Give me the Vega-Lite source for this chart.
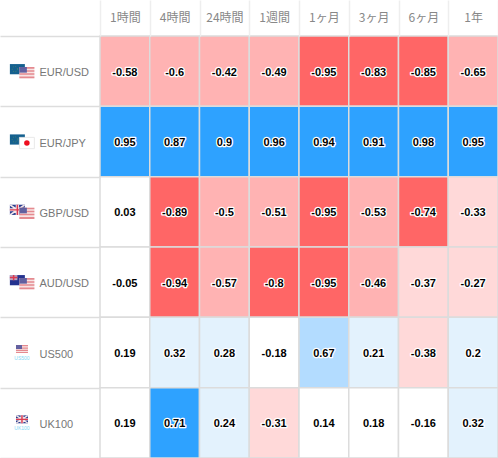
{
"$schema":"https://vega.github.io/schema/vega-lite/v6.json",
"width":398,"height":422,"autosize":"none",
"padding":{"left":100,"top":36,"right":0,"bottom":0},
"background":"white",
"config":{"view":{"stroke":null}},
"datasets":{
"cells":[
{"row":"EUR/USD","p":"1時間","v":-0.58},{"row":"EUR/USD","p":"4時間","v":-0.6},{"row":"EUR/USD","p":"24時間","v":-0.42},{"row":"EUR/USD","p":"1週間","v":-0.49},{"row":"EUR/USD","p":"1ヶ月","v":-0.95},{"row":"EUR/USD","p":"3ヶ月","v":-0.83},{"row":"EUR/USD","p":"6ヶ月","v":-0.85},{"row":"EUR/USD","p":"1年","v":-0.65},
{"row":"EUR/JPY","p":"1時間","v":0.95},{"row":"EUR/JPY","p":"4時間","v":0.87},{"row":"EUR/JPY","p":"24時間","v":0.9},{"row":"EUR/JPY","p":"1週間","v":0.96},{"row":"EUR/JPY","p":"1ヶ月","v":0.94},{"row":"EUR/JPY","p":"3ヶ月","v":0.91},{"row":"EUR/JPY","p":"6ヶ月","v":0.98},{"row":"EUR/JPY","p":"1年","v":0.95},
{"row":"GBP/USD","p":"1時間","v":0.03},{"row":"GBP/USD","p":"4時間","v":-0.89},{"row":"GBP/USD","p":"24時間","v":-0.5},{"row":"GBP/USD","p":"1週間","v":-0.51},{"row":"GBP/USD","p":"1ヶ月","v":-0.95},{"row":"GBP/USD","p":"3ヶ月","v":-0.53},{"row":"GBP/USD","p":"6ヶ月","v":-0.74},{"row":"GBP/USD","p":"1年","v":-0.33},
{"row":"AUD/USD","p":"1時間","v":-0.05},{"row":"AUD/USD","p":"4時間","v":-0.94},{"row":"AUD/USD","p":"24時間","v":-0.57},{"row":"AUD/USD","p":"1週間","v":-0.8},{"row":"AUD/USD","p":"1ヶ月","v":-0.95},{"row":"AUD/USD","p":"3ヶ月","v":-0.46},{"row":"AUD/USD","p":"6ヶ月","v":-0.37},{"row":"AUD/USD","p":"1年","v":-0.27},
{"row":"US500","p":"1時間","v":0.19},{"row":"US500","p":"4時間","v":0.32},{"row":"US500","p":"24時間","v":0.28},{"row":"US500","p":"1週間","v":-0.18},{"row":"US500","p":"1ヶ月","v":0.67},{"row":"US500","p":"3ヶ月","v":0.21},{"row":"US500","p":"6ヶ月","v":-0.38},{"row":"US500","p":"1年","v":0.2},
{"row":"UK100","p":"1時間","v":0.19},{"row":"UK100","p":"4時間","v":0.71},{"row":"UK100","p":"24時間","v":0.24},{"row":"UK100","p":"1週間","v":-0.31},{"row":"UK100","p":"1ヶ月","v":0.14},{"row":"UK100","p":"3ヶ月","v":0.18},{"row":"UK100","p":"6ヶ月","v":-0.16},{"row":"UK100","p":"1年","v":0.32}
],
"flags":[
{"row":"EUR/USD","back":"EU","front":"US","p":"1時間"},
{"row":"EUR/JPY","back":"EU","front":"JP","p":"1時間"},
{"row":"GBP/USD","back":"UK","front":"US","p":"1時間"},
{"row":"AUD/USD","back":"AU","front":"US","p":"1時間"},
{"row":"US500","center":"US","tag":"US500","p":"1時間"},
{"row":"UK100","center":"UK","tag":"UK100","p":"1時間"}
]},
"encoding":{
"x":{"field":"p","type":"nominal","sort":["1時間","4時間","24時間","1週間","1ヶ月","3ヶ月","6ヶ月","1年"],
"scale":{"domain":["1時間","4時間","24時間","1週間","1ヶ月","3ヶ月","6ヶ月","1年"],"paddingInner":0,"paddingOuter":0},
"axis":{"orient":"top","title":null,"domain":false,"grid":false,"tickBand":"extent","tickSize":36,"tickColor":"#eeeeee","tickWidth":1.5,"labelAngle":0,"labelPadding":-17,"labelBaseline":"middle","labelFont":"Noto Sans CJK JP","labelFontSize":12,"labelColor":"#888888"}},
"y":{"field":"row","type":"nominal","sort":["EUR/USD","EUR/JPY","GBP/USD","AUD/USD","US500","UK100"],
"scale":{"domain":["EUR/USD","EUR/JPY","GBP/USD","AUD/USD","US500","UK100"],"paddingInner":0,"paddingOuter":0},
"axis":{"title":null,"domain":false,"grid":false,"tickBand":"extent","tickSize":100,"tickColor":"#dddddd","tickWidth":1.5,"labelAlign":"left","labelPadding":-39,"labelOffset":1.5,"labelFont":"Liberation Sans","labelFontSize":11,"labelColor":"#777777"}}
},
"layer":[
{"data":{"name":"cells"},"mark":{"type":"rect","stroke":"#dcdcdc","strokeWidth":1.5},
"encoding":{"color":{"field":"v","type":"quantitative","legend":null,"scale":{"type":"threshold","domain":[-0.7,-0.4,-0.2,0.2,0.4,0.7],"range":["#ff6666","#ffb3b3","#ffd9d9","#ffffff","#e3f2fd","#b3dcff","#2ea2ff"]}}}},
{"data":{"name":"cells"},"mark":{"type":"text","font":"Liberation Sans","fontSize":11,"fontWeight":"bold","stroke":"white","strokeWidth":2.5,"strokeJoin":"round","fill":"white","yOffset":1.5},
"encoding":{"text":{"field":"v","type":"nominal"}}},
{"data":{"name":"cells"},"mark":{"type":"text","font":"Liberation Sans","fontSize":11,"fontWeight":"bold","fill":"#000000","yOffset":1.5},
"encoding":{"text":{"field":"v","type":"nominal"}}},

{"data":{"name":"flags"},"transform":[{"filter":"datum.back==='EU'"}],"mark":{"type":"point","filled":true,"clip":false,"opacity":1,"shape":"M-1,-0.68H1V0.68H-1Z","size":225,"fill":"#14608f","xOffset":-107.5,"yOffset":-2}},
{"data":{"name":"flags"},"transform":[{"filter":"datum.back==='EU'"}],"mark":{"type":"point","filled":false,"clip":false,"opacity":0.8,"shape":"circle","size":28,"stroke":"#6f9a55","strokeWidth":0.7,"strokeDash":[1,1.5],"xOffset":-110,"yOffset":-2}},

{"data":{"name":"flags"},"transform":[{"filter":"datum.back==='UK'"}],"mark":{"type":"point","filled":true,"clip":false,"opacity":1,"shape":"M-1,-0.68H1V0.68H-1Z","size":225,"fill":"#2b3f90","xOffset":-107.5,"yOffset":-2}},
{"data":{"name":"flags"},"transform":[{"filter":"datum.back==='UK'"}],"mark":{"type":"point","filled":true,"clip":false,"opacity":1,"shape":"M-1,-0.68L-0.8,-0.68L1,0.54V0.68H0.8L-1,-0.54ZM1,-0.68V-0.54L-0.8,0.68H-1V0.54L0.8,-0.68ZM-0.22,-0.68H0.22V-0.2H1V0.2H0.22V0.68H-0.22V0.2H-1V-0.2H-0.22Z","size":225,"fill":"#f4e6e8","xOffset":-107.5,"yOffset":-2}},
{"data":{"name":"flags"},"transform":[{"filter":"datum.back==='UK'"}],"mark":{"type":"point","filled":true,"clip":false,"opacity":1,"shape":"M-0.1,-0.68H0.1V-0.09H1V0.09H0.1V0.68H-0.1V0.09H-1V-0.09H-0.1Z","size":225,"fill":"#dc3a50","xOffset":-107.5,"yOffset":-2}},

{"data":{"name":"flags"},"transform":[{"filter":"datum.back==='AU'"}],"mark":{"type":"point","filled":true,"clip":false,"opacity":1,"shape":"M-1,-0.68H1V0.68H-1Z","size":225,"fill":"#24328f","xOffset":-107.5,"yOffset":-2}},
{"data":{"name":"flags"},"transform":[{"filter":"datum.back==='AU'"}],"mark":{"type":"point","filled":true,"clip":false,"opacity":1,"shape":"M-1,-0.68H0V0H-1Z","size":225,"fill":"#b9a6c0","xOffset":-107.5,"yOffset":-2}},
{"data":{"name":"flags"},"transform":[{"filter":"datum.back==='AU'"}],"mark":{"type":"point","filled":true,"clip":false,"opacity":1,"shape":"M-0.6,-0.68H-0.4V-0.44H0V-0.24H-0.4V0H-0.6V-0.24H-1V-0.44H-0.6Z","size":225,"fill":"#dc3a50","xOffset":-107.5,"yOffset":-2}},

{"data":{"name":"flags"},"transform":[{"filter":"datum.front==='US'"}],"mark":{"type":"point","filled":true,"clip":false,"opacity":1,"shape":"M-1,-0.75H1V0.75H-1Z","size":225,"fill":"#f7e4e4","xOffset":-98,"yOffset":1.5}},
{"data":{"name":"flags"},"transform":[{"filter":"datum.front==='US'"}],"mark":{"type":"point","filled":true,"clip":false,"opacity":1,"shape":"M-1,-0.75H1V-0.53H-1ZM-1,-0.33H1V-0.13H-1ZM-1,0.07H1V0.27H-1ZM-1,0.5H1V0.75H-1Z","size":225,"fill":"#e58a90","xOffset":-98,"yOffset":1.5}},
{"data":{"name":"flags"},"transform":[{"filter":"datum.front==='US'"}],"mark":{"type":"point","filled":true,"clip":false,"opacity":0.95,"shape":"M-1,-0.75H0V0H-1Z","size":225,"fill":"#5a5c9e","xOffset":-98,"yOffset":1.5}},

{"data":{"name":"flags"},"transform":[{"filter":"datum.front==='JP'"}],"mark":{"type":"point","filled":true,"clip":false,"opacity":1,"shape":"M-1,-0.75H1V0.75H-1Z","size":225,"fill":"#ffffff","stroke":"#e4e4e4","strokeWidth":0.8,"xOffset":-98,"yOffset":1.5}},
{"data":{"name":"flags"},"transform":[{"filter":"datum.front==='JP'"}],"mark":{"type":"point","filled":true,"clip":false,"opacity":1,"shape":"circle","size":30,"fill":"#ee0f1f","xOffset":-98,"yOffset":1.5}},

{"data":{"name":"flags"},"transform":[{"filter":"datum.center==='US'"}],"mark":{"type":"point","filled":true,"clip":false,"opacity":1,"shape":"M-1,-0.66H1V0.66H-1Z","size":144,"fill":"#f7e4e4","xOffset":-102.9,"yOffset":-3.5}},
{"data":{"name":"flags"},"transform":[{"filter":"datum.center==='US'"}],"mark":{"type":"point","filled":true,"clip":false,"opacity":1,"shape":"M-1,-0.66H1V-0.46H-1ZM-1,-0.26H1V-0.06H-1ZM-1,0.14H1V0.34H-1ZM-1,0.5H1V0.66H-1Z","size":144,"fill":"#e58a90","xOffset":-102.9,"yOffset":-3.5}},
{"data":{"name":"flags"},"transform":[{"filter":"datum.center==='US'"}],"mark":{"type":"point","filled":true,"clip":false,"opacity":0.95,"shape":"M-1,-0.66H0V0H-1Z","size":144,"fill":"#5a5c9e","xOffset":-102.9,"yOffset":-3.5}},

{"data":{"name":"flags"},"transform":[{"filter":"datum.center==='UK'"}],"mark":{"type":"point","filled":true,"clip":false,"opacity":1,"shape":"M-1,-0.66H1V0.66H-1Z","size":144,"fill":"#2b3f90","xOffset":-102.9,"yOffset":-3.5}},
{"data":{"name":"flags"},"transform":[{"filter":"datum.center==='UK'"}],"mark":{"type":"point","filled":true,"clip":false,"opacity":1,"shape":"M-1,-0.66L-0.8,-0.66L1,0.52V0.66H0.8L-1,-0.52ZM1,-0.66V-0.52L-0.8,0.66H-1V0.52L0.8,-0.66ZM-0.24,-0.66H0.24V-0.2H1V0.2H0.24V0.66H-0.24V0.2H-1V-0.2H-0.24Z","size":144,"fill":"#f4e6e8","xOffset":-102.9,"yOffset":-3.5}},
{"data":{"name":"flags"},"transform":[{"filter":"datum.center==='UK'"}],"mark":{"type":"point","filled":true,"clip":false,"opacity":1,"shape":"M-0.12,-0.66H0.12V-0.1H1V0.1H0.12V0.66H-0.12V0.1H-1V-0.1H-0.12Z","size":144,"fill":"#dc3a50","xOffset":-102.9,"yOffset":-3.5}},

{"data":{"name":"flags"},"transform":[{"filter":"datum.tag"}],"mark":{"type":"text","clip":false,"font":"Liberation Sans","fontSize":5,"fill":"#7fd8f5","xOffset":-102.9,"yOffset":5.5},
"encoding":{"text":{"field":"tag","type":"nominal"}}}
]
}
